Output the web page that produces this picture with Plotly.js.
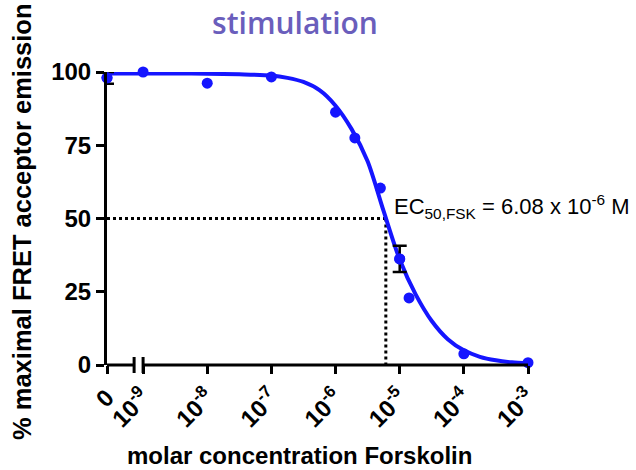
<!DOCTYPE html>
<html>
<head>
<meta charset="utf-8">
<script src="https://cdn.plot.ly/plotly-3.0.1.min.js"></script>
<style>html,body{margin:0;padding:0;background:#fff;}#chart{width:636px;height:470px;}</style>
</head>
<body>
<div id="chart"></div>
<script>
// ---- data ----
const conc = [0, 1e-9, 1e-8, 1e-7, 1e-6, 2e-6, 5e-6, 1e-5, 1.4e-5, 1e-4, 1e-3];
const response = [98, 100, 96.2, 98.3, 86.3, 77.5, 60.4, 36.2, 22.9, 3.8, 0.8];
// error bars visible only where the reference shows them (others hidden by the markers)
const responseErr = [2, null, null, null, null, null, null, 4.5, null, null, null];

const fitConc = [0, 1e-9, 3.16e-9, 1e-8, 3.16e-8, 1e-7, 1.78e-7, 3.16e-7, 5.62e-7, 1e-6, 1.78e-6,
                 3.16e-6, 5.62e-6, 1e-5, 1.78e-5, 3.16e-5, 5.62e-5, 1e-4, 1.78e-4, 3.16e-4, 5.62e-4, 1e-3];
const fitResponse = [99.5, 99.5, 99.5, 99.4, 99.2, 98.8, 98.0, 96.6, 93.8, 88.5, 80.5,
                     69.5, 52.5, 36.0, 24.0, 15.0, 8.8, 5.0, 2.8, 1.6, 0.9, 0.5];

const tickConc = [0, 1e-9, 1e-8, 1e-7, 1e-6, 1e-5, 1e-4, 1e-3];
const tickLabels = ['0', '10<sup>-9</sup>', '10<sup>-8</sup>', '10<sup>-7</sup>', '10<sup>-6</sup>',
                    '10<sup>-5</sup>', '10<sup>-4</sup>', '10<sup>-3</sup>'];
const yTicks = [0, 25, 50, 75, 100];
const ec50 = 6.08e-6;
const ec50Level = 50;

// ---- axis geometry (broken log axis: "0" drawn left of the break) ----
const ZERO_POS = -9.5625;
const X_MAX = -3;
const BREAK_START = -9.14;
const BREAK_END = -9;
const xPos = c => (c === 0 ? ZERO_POS : Math.log10(c));
const toPaper = v => (v - ZERO_POS) / (X_MAX - ZERO_POS);

const BLUE = '#1515ff';
const FONT = 'Liberation Sans, Arial, sans-serif';

const errIdx = responseErr.map((e, i) => (e === null ? -1 : i)).filter(i => i >= 0);

const traces = [
  {
    x: fitConc.map(xPos), y: fitResponse, type: 'scatter', mode: 'lines',
    line: {color: BLUE, width: 4, shape: 'spline', smoothing: 0.8},
    cliponaxis: false, hoverinfo: 'skip'
  },
  {
    // error bars (only the points that carry one)
    x: errIdx.map(i => xPos(conc[i])), y: errIdx.map(i => response[i]), type: 'scatter', mode: 'markers',
    marker: {color: BLUE, size: 11},
    error_y: {type: 'data', array: errIdx.map(i => responseErr[i]), visible: true, color: '#000', thickness: 2.5, width: 7},
    cliponaxis: false
  },
  {
    x: conc.map(xPos), y: response, type: 'scatter', mode: 'markers',
    marker: {color: BLUE, size: 11},
    cliponaxis: false
  }
];

const breakHalf = 8 / 293;
const layout = {
  width: 636, height: 470,
  margin: {l: 107, r: 108, t: 72, b: 105},
  paper_bgcolor: '#fff', plot_bgcolor: '#fff',
  showlegend: false,
  title: {
    text: 'stimulation',
    font: {family: 'Open Sans, sans-serif', size: 30, color: '#6a5ebc', weight: 600},
    x: 284 / 636, xanchor: 'center', xref: 'paper',
    y: 1 - 23 / 470, yanchor: 'middle', yref: 'container'
  },
  xaxis: {
    range: [ZERO_POS, X_MAX], showgrid: false, zeroline: false, showline: false,
    tickmode: 'array', tickvals: tickConc.map(xPos), ticktext: tickLabels,
    ticks: 'outside', ticklen: 8, tickwidth: 3, tickcolor: '#000',
    tickangle: -45, tickfont: {family: FONT, size: 24, color: '#000', weight: 'bold'},
    fixedrange: true
  },
  yaxis: {
    range: [0, 100], showgrid: false, zeroline: false,
    showline: true, linewidth: 3, linecolor: '#000',
    tickmode: 'array', tickvals: yTicks,
    ticks: 'outside', ticklen: 8, tickwidth: 3, tickcolor: '#000',
    tickfont: {family: FONT, size: 24, color: '#000', weight: 'bold'},
    fixedrange: true
  },
  shapes: [
    // broken x-axis line
    {type: 'line', xref: 'paper', yref: 'paper', x0: 0, x1: toPaper(BREAK_START), y0: 0, y1: 0,
     line: {color: '#000', width: 3}},
    {type: 'line', xref: 'paper', yref: 'paper', x0: toPaper(BREAK_END), x1: 1, y0: 0, y1: 0,
     line: {color: '#000', width: 3}},
    {type: 'line', xref: 'paper', yref: 'paper', x0: toPaper(BREAK_START), x1: toPaper(BREAK_START),
     y0: -breakHalf, y1: breakHalf, line: {color: '#000', width: 3}},
    {type: 'line', xref: 'paper', yref: 'paper', x0: toPaper(BREAK_END), x1: toPaper(BREAK_END),
     y0: -breakHalf, y1: breakHalf, line: {color: '#000', width: 3}},
    // EC50 guide lines
    {type: 'line', xref: 'x', yref: 'y', x0: ZERO_POS, x1: Math.log10(ec50), y0: ec50Level, y1: ec50Level,
     line: {color: '#000', width: 3, dash: 'dot'}, layer: 'below'},
    {type: 'line', xref: 'x', yref: 'y', x0: Math.log10(ec50), x1: Math.log10(ec50), y0: ec50Level, y1: 0,
     line: {color: '#000', width: 3, dash: 'dot'}, layer: 'below'}
  ],
  annotations: [
    {text: 'EC<sub>50,FSK</sub> = 6.08 x 10<sup>-6</sup> M', xref: 'paper', yref: 'paper',
     x: (392 - 107) / 421, xanchor: 'left', y: (365 - 206) / 293, yanchor: 'middle',
     showarrow: false, font: {family: FONT, size: 22, color: '#000'}},
    {text: 'molar concentration Forskolin', xref: 'paper', yref: 'paper',
     x: (299 - 107) / 421, xanchor: 'center', y: -(455 - 365) / 293, yanchor: 'middle',
     showarrow: false, font: {family: FONT, size: 24, color: '#000', weight: 'bold'}},
    {text: '% maximal FRET acceptor emission', xref: 'paper', yref: 'paper',
     x: (22 - 107) / 421, xanchor: 'center', y: (365 - 222) / 293, yanchor: 'middle',
     textangle: -90, showarrow: false, font: {family: FONT, size: 25.5, color: '#000', weight: 'bold'}}
  ]
};

Plotly.newPlot('chart', traces, layout, {staticPlot: true, displayModeBar: false});
</script>
</body>
</html>
